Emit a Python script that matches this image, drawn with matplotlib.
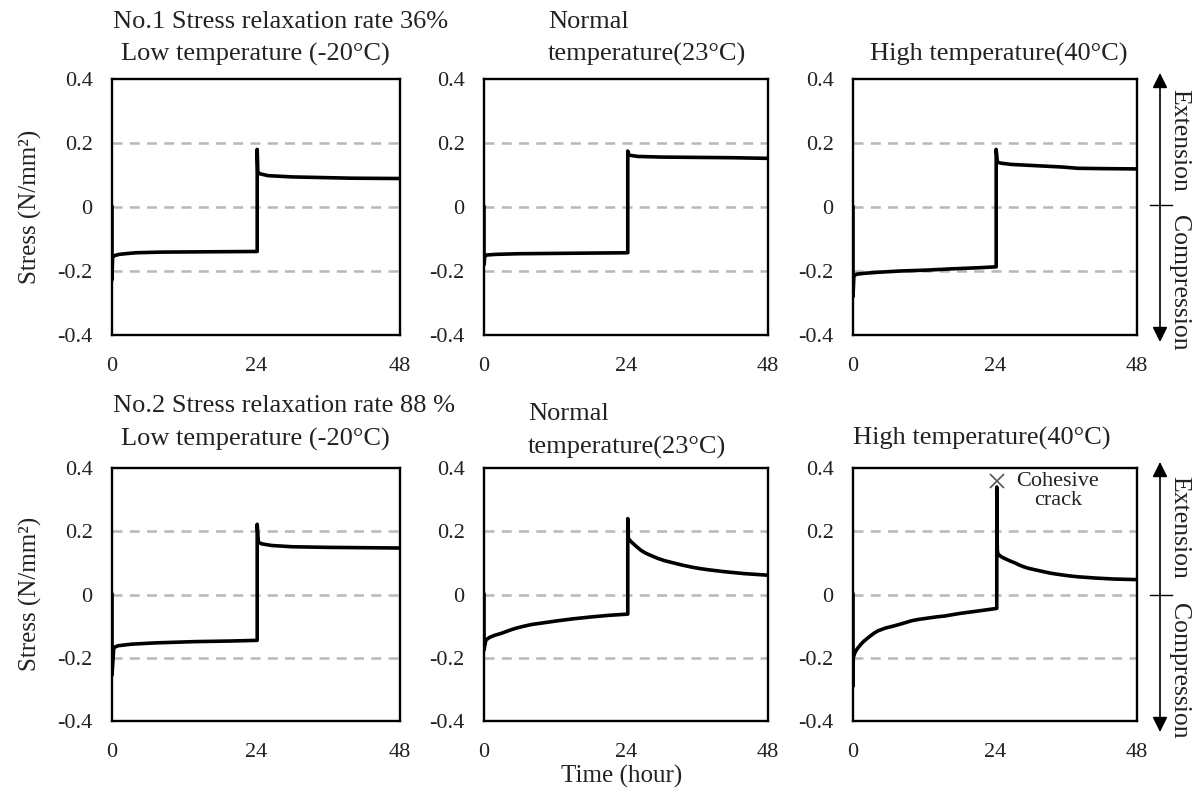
import matplotlib
matplotlib.use('Agg')
import matplotlib.pyplot as plt

plt.rcParams['font.family'] = ['Liberation Serif', 'DejaVu Serif']

W, H = 1198, 798

# ---------------- data (hours, N/mm^2) ----------------
time_no1_low = [0, 0, 0.1, 0.4, 1.2, 2.2, 4, 8, 16, 24.2, 24.2, 24.3, 24.6, 26, 30, 35, 40, 48]
stress_no1_low = [0, -0.228, -0.155, -0.152, -0.148, -0.146, -0.143, -0.141, -0.140, -0.139,
                  0.18, 0.11, 0.104, 0.098, 0.094, 0.092, 0.090, 0.089]

time_no1_normal = [0, 0, 0.15, 0.5, 2, 6, 12, 18, 24.3, 24.3, 24.5, 26, 30, 36, 42, 48]
stress_no1_normal = [0, -0.18, -0.152, -0.150, -0.148, -0.146, -0.145, -0.144, -0.143,
                     0.175, 0.162, 0.158, 0.156, 0.155, 0.154, 0.152]

time_no1_high = [0, 0, 0.15, 0.6, 2, 4.2, 8, 12.7, 17, 21, 24.2, 24.2, 24.4, 25, 26.8, 30,
                 35.3, 38, 42, 48]
stress_no1_high = [0, -0.28, -0.215, -0.21, -0.207, -0.204, -0.200, -0.197, -0.193, -0.190,
                   -0.187, 0.18, 0.14, 0.137, 0.133, 0.130, 0.125, 0.121, 0.120, 0.119]

time_no2_low = [0, 0, 0.3, 1, 3.3, 7.2, 13.8, 20, 24.2, 24.2, 24.4, 25, 26.6, 30, 36, 42, 48]
stress_no2_low = [0, -0.255, -0.168, -0.162, -0.157, -0.153, -0.149, -0.147, -0.145,
                  0.222, 0.165, 0.160, 0.155, 0.151, 0.149, 0.148, 0.147]

time_no2_normal = [0, 0, 0.3, 0.6, 1, 1.8, 2.9, 4.5, 5.5, 6.8, 8, 9.5, 11, 12.5, 15, 18.1,
                   21, 24.3, 24.3, 24.4, 24.8, 25.5, 26, 26.5, 27.2, 28, 29.4, 30.5, 32,
                   33.5, 35, 36.5, 38, 40.7, 44, 48]
stress_no2_normal = [0, -0.176, -0.145, -0.140, -0.135, -0.129, -0.123, -0.112, -0.106,
                     -0.100, -0.095, -0.091, -0.087, -0.083, -0.077, -0.071, -0.066, -0.062,
                     0.24, 0.177, 0.168, 0.156, 0.148, 0.140, 0.132, 0.125, 0.114, 0.107,
                     0.100, 0.093, 0.087, 0.082, 0.078, 0.072, 0.066, 0.061]

time_no2_high = [0, 0, 0.05, 0.3, 0.7, 1.4, 2.0, 2.8, 3.5, 4.2, 5.5, 7, 8.5, 9.9, 11, 12.5,
                 14, 15.5, 18, 21.2, 24.3, 24.3, 24.35, 24.4, 24.5, 25, 25.5, 26.2, 26.8,
                 27.5, 28, 28.8, 29.6, 30.8, 32, 33.5, 35.3, 36.5, 38, 39.5, 41, 44, 48]
stress_no2_high = [0, -0.29, -0.20, -0.185, -0.172, -0.156, -0.145, -0.133, -0.123, -0.115,
                   -0.106, -0.099, -0.091, -0.083, -0.079, -0.075, -0.071, -0.068, -0.060,
                   -0.052, -0.044, 0.34, 0.18, 0.14, 0.128, 0.120, 0.115, 0.109, 0.104,
                   0.099, 0.094, 0.088, 0.083, 0.078, 0.073, 0.067, 0.062, 0.059, 0.056,
                   0.054, 0.052, 0.049, 0.047]

crack_point = (24.3, 0.36)

x_ticks = [0, 24, 48]
y_ticks = [-0.4, -0.2, 0, 0.2, 0.4]
y_tick_labels = ['-0.4', '-0.2', '0', '0.2', '0.4']
grid_levels = [-0.2, 0, 0.2]

series = [
    [(time_no1_low, stress_no1_low), (time_no1_normal, stress_no1_normal), (time_no1_high, stress_no1_high)],
    [(time_no2_low, stress_no2_low), (time_no2_normal, stress_no2_normal), (time_no2_high, stress_no2_high)],
]

# ---------------- layout (pixels) ----------------
col_left = [112, 484, 853]
col_right = [400, 768, 1137]
row_top = [79, 468]
row_bot = [335, 721]

fig = plt.figure(figsize=(W / 100, H / 100), dpi=100)


def fx(x):
    return x / W


def fy(y):
    return 1 - y / H


axes = []
for r in range(2):
    for c in range(3):
        l, rr = col_left[c], col_right[c]
        t, b = row_top[r], row_bot[r]
        ax = fig.add_axes([fx(l), fy(b), (rr - l) / W, (b - t) / H])
        for g in grid_levels:
            ax.axhline(g, color='#b8b8b8', lw=1.8, dashes=[4.0, 2.9], zorder=1)
        tt, ss = series[r][c]
        ax.plot(tt, ss, color='black', lw=2.6, zorder=3)
        ax.set_xlim(0, 48)
        ax.set_ylim(-0.4, 0.4)
        ax.set_xticks(x_ticks)
        ax.set_xticklabels([str(v) for v in x_ticks])
        ax.set_yticks(y_ticks)
        ax.set_yticklabels(y_tick_labels)
        ax.tick_params(axis='both', length=0, labelsize=16, colors='#222222')
        ax.tick_params(axis='y', pad=14)
        ax.tick_params(axis='x', pad=15.5)
        for sp in ax.spines.values():
            sp.set_linewidth(1.7)
            sp.set_color('black')
        axes.append(ax)

# Crack marker and annotation
ax6 = axes[5]
ax6.plot([crack_point[0]], [crack_point[1]], marker='x', color='#555555', ms=10, mew=1.2,
         zorder=4, clip_on=False)
ax6.text(34.6, 0.327, 'Cohesive\ncrack', ha='center', va='center', fontsize=16,
         linespacing=1.0, color='#222222')

TS = 19
tc = '#222222'
# Titles top row
fig.text(fx(113), fy(28), 'No.1 Stress relaxation rate 36%', fontsize=TS, va='baseline', color=tc)
fig.text(fx(121), fy(61), 'Low temperature (-20°C)', fontsize=TS, va='baseline', color=tc)
fig.text(fx(548), fy(28), 'Normal', fontsize=TS, va='baseline', color=tc)
fig.text(fx(548), fy(61), 'temperature(23°C)', fontsize=TS, va='baseline', color=tc)
fig.text(fx(870), fy(61), 'High temperature(40°C)', fontsize=TS, va='baseline', color=tc)
# Titles bottom row
fig.text(fx(113), fy(412), 'No.2 Stress relaxation rate 88 %', fontsize=TS, va='baseline', color=tc)
fig.text(fx(121), fy(446), 'Low temperature (-20°C)', fontsize=TS, va='baseline', color=tc)
fig.text(fx(528), fy(420), 'Normal', fontsize=TS, va='baseline', color=tc)
fig.text(fx(528), fy(454), 'temperature(23°C)', fontsize=TS, va='baseline', color=tc)
fig.text(fx(853), fy(445), 'High temperature(40°C)', fontsize=TS, va='baseline', color=tc)

# Axis labels
fig.text(fx(30), fy(207), 'Stress (N/mm²)', rotation=90, fontsize=18, ha='center', va='center', color=tc)
fig.text(fx(30), fy(594), 'Stress (N/mm²)', rotation=90, fontsize=18, ha='center', va='center', color=tc)
fig.text(fx(622), fy(776), 'Time (hour)', fontsize=18, ha='center', va='center', color=tc)

# Extension / Compression arrows
for (top, bot, mid, ext_y, comp_y) in [(73, 342, 205, 140, 283), (462, 732, 595, 527, 671)]:
    fig.add_artist(matplotlib.patches.FancyArrowPatch(
        (fx(1160), fy(bot)), (fx(1160), fy(top)), transform=fig.transFigure,
        arrowstyle='<|-|>,head_length=9,head_width=4.5', mutation_scale=1,
        color='black', lw=1.2, shrinkA=0, shrinkB=0))
    fig.add_artist(plt.Line2D([fx(1150), fx(1172)], [fy(mid), fy(mid)], transform=fig.transFigure,
                              color='black', lw=1.0))
    fig.text(fx(1179), fy(ext_y), 'Extension', rotation=-90, fontsize=18.5, ha='center', va='center', color=tc)
    fig.text(fx(1179), fy(comp_y), 'Compression', rotation=-90, fontsize=18.5, ha='center', va='center', color=tc)

fig.savefig('out.png', dpi=100)
